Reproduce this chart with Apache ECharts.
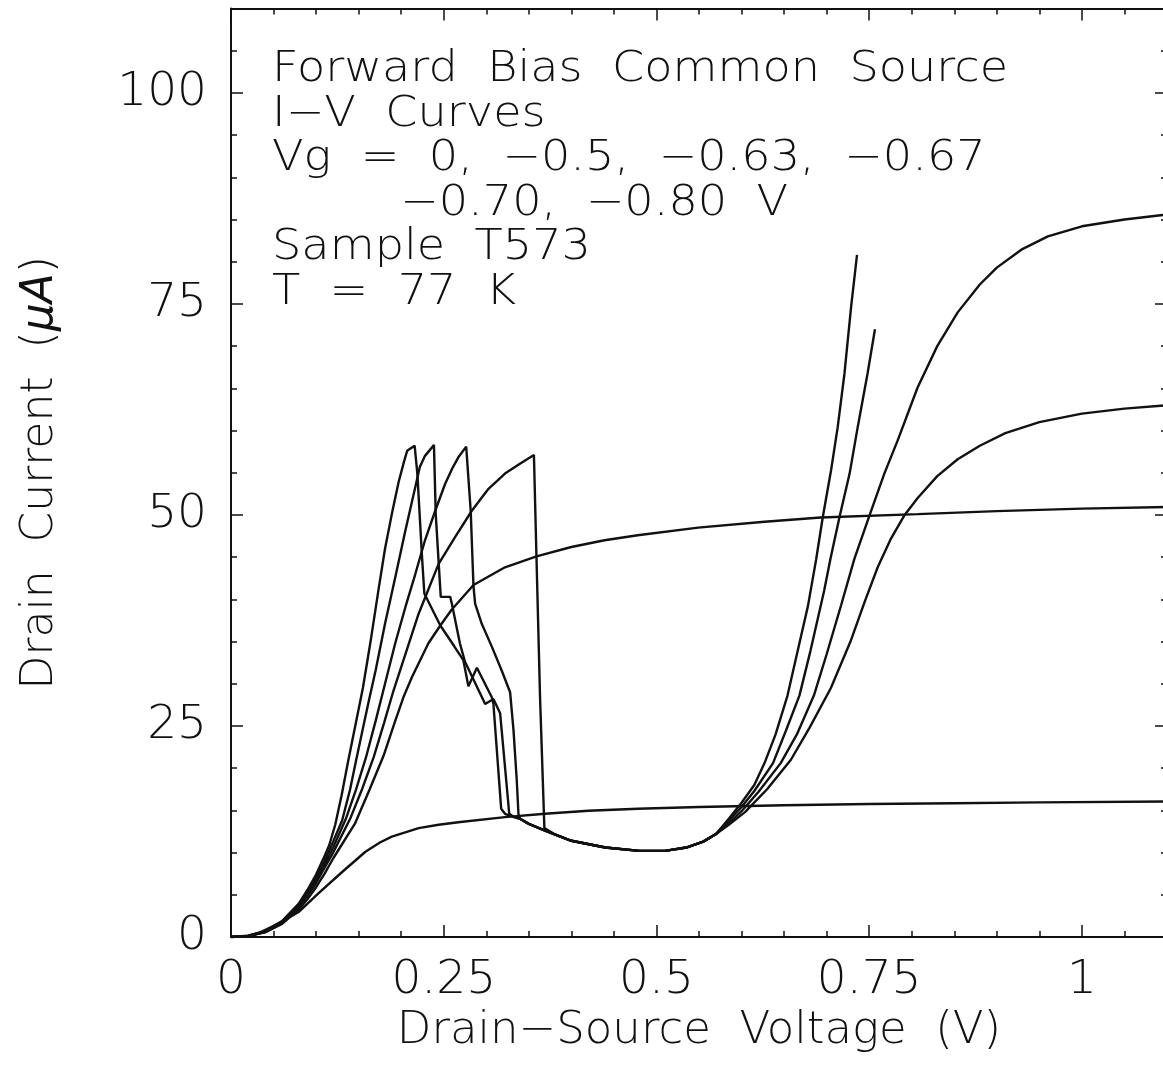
<!DOCTYPE html>
<html>
<head>
<meta charset="utf-8">
<script src="https://cdn.jsdelivr.net/npm/echarts@6/dist/echarts.min.js"></script>
<style>
  html, body { margin: 0; padding: 0; overflow: hidden; background: #fff; }
  #chart { width: 1200px; height: 1081px; }
</style>
</head>
<body>
<div id="chart"></div>
<script>
// Forward-bias common-source I-V curves, sample T573 at 77 K.
// Each curve: [drain-source voltage (V), drain current (uA)].

const xTicks = [0, 0.25, 0.5, 0.75, 1];
const yTicks = [0, 25, 50, 75, 100];
const gateVoltages = ['0', '−0.5', '−0.63', '−0.67', '−0.70', '−0.80'];

const noteLines = [
  'Forward  Bias  Common  Source',
  'I−V  Curves',
  'Vg  =  0,  −0.5,  −0.63,  −0.67',
  '−0.70,  −0.80  V',
  'Sample  T573',
  'T  =  77  K'
];

// Vg = 0 V : earliest peak, steepest recovery
const vg0Rise = [[0,0],[0.02,0.12],[0.04,0.7],[0.06,1.9],[0.08,4.0],[0.09,5.6],[0.10,7.4],[0.11,9.6],[0.1155,10.9],[0.1225,13.3],[0.13,16.8],[0.1376,20.8],[0.146,25.0],[0.155,29.5],[0.164,35.0],[0.1736,41.3],[0.181,46.0],[0.189,50.1],[0.197,53.9],[0.203,56.2],[0.207,57.6],[0.2158,58.2]];
const vg0Drop = [[0.219,54.9],[0.2245,45.0],[0.2272,40.7],[0.246,36.9],[0.262,34.5],[0.273,32.8],[0.279,29.7],[0.289,31.9],[0.3065,28.4],[0.3084,27.6],[0.3175,15.2],[0.322,14.6],[0.33,14.3]];
const vg0Recover = [[0.585,14.0],[0.60,15.9],[0.615,18.0],[0.627,20.6],[0.64,24.0],[0.654,28.6],[0.666,33.9],[0.678,39.2],[0.6876,44.7],[0.6954,49.7],[0.7052,55.3],[0.713,60.4],[0.7209,66.7],[0.7287,74.6],[0.7357,80.8]];

// Vg = -0.5 V
const vg05Rise = [[0,0],[0.02,0.11],[0.04,0.66],[0.06,1.8],[0.08,3.9],[0.09,5.3],[0.10,7.0],[0.11,9.0],[0.12,11.3],[0.1306,13.8],[0.14,17.5],[0.147,20.9],[0.155,24.7],[0.162,28.0],[0.170,31.6],[0.181,37.1],[0.193,42.6],[0.205,48.2],[0.2166,53.3],[0.222,55.7],[0.228,57.0],[0.2385,58.3]];
const vg05Drop = [[0.2406,50.1],[0.2465,40.3],[0.2576,40.3],[0.2595,39.5],[0.269,34.8],[0.275,32.6],[0.2987,27.6],[0.3084,28.2],[0.3163,26.5],[0.327,14.6],[0.333,14.2]];
const vg05Recover = [[0.585,13.8],[0.60,15.4],[0.615,17.3],[0.637,20.6],[0.652,24.4],[0.668,28.6],[0.681,33.9],[0.697,41.0],[0.7045,44.8],[0.715,49.7],[0.727,54.9],[0.7365,60.4],[0.748,66.7],[0.7568,72.0]];

// Vg = -0.63 V
const vg063Rise = [[0,0],[0.02,0.1],[0.04,0.62],[0.06,1.75],[0.08,3.8],[0.09,5.1],[0.10,6.7],[0.11,8.6],[0.12,10.6],[0.135,14.0],[0.147,17.5],[0.1587,21.3],[0.170,25.6],[0.181,30.0],[0.193,34.8],[0.205,39.1],[0.2166,43.0],[0.228,47.0],[0.240,50.5],[0.2517,53.7],[0.260,55.5],[0.267,56.8],[0.2764,58.1]];
const vg063Drop = [[0.2817,50.5],[0.285,41.5],[0.2869,39.5],[0.2947,37.1],[0.3065,34.4],[0.318,31.6],[0.328,29.0],[0.332,24.5],[0.3358,18.6],[0.3378,14.6]];
const vg063Recover = [[0.585,13.5],[0.60,14.9],[0.62,17.2],[0.646,20.6],[0.665,24.0],[0.685,28.6],[0.70,33.5],[0.717,39.3],[0.7326,44.8],[0.7502,49.9],[0.7678,54.9],[0.7834,58.8],[0.8069,65.1],[0.83,70.0],[0.854,74.0],[0.88,77.3],[0.90,79.3],[0.93,81.5],[0.96,83.0],[1.0,84.2],[1.05,85.0],[1.1,85.6]];

// Vg = -0.67 V : latest peak
const vg067Rise = [[0,0],[0.02,0.1],[0.04,0.58],[0.06,1.65],[0.08,3.6],[0.09,4.9],[0.10,6.4],[0.11,8.2],[0.12,10.0],[0.140,14.0],[0.154,17.5],[0.1677,21.3],[0.18,25.4],[0.191,29.2],[0.2205,38.3],[0.244,44.2],[0.2635,47.4],[0.283,50.5],[0.3026,53.1],[0.322,54.9],[0.34,56.1],[0.356,57.1]];
const vg067Drop = [[0.359,45.0],[0.3632,28.4],[0.3683,12.9],[0.38,12.2]];
const vg067Recover = [[0.585,13.3],[0.604,14.8],[0.63,17.5],[0.658,21.0],[0.68,24.8],[0.705,29.5],[0.728,35.0],[0.745,39.8],[0.76,43.8],[0.7756,47.2],[0.791,49.9],[0.807,52.0],[0.83,54.6],[0.854,56.6],[0.88,58.2],[0.91,59.7],[0.95,61.0],[1.0,62.0],[1.05,62.6],[1.1,63.0]];

// shared valley of the four NDR curves
const valley = [[0.3397,14.0],[0.35,13.4],[0.369,12.6],[0.40,11.4],[0.44,10.6],[0.48,10.2],[0.51,10.2],[0.535,10.6],[0.555,11.3],[0.57,12.2]];
const valleyFrom040 = valley.filter(p => p[0] >= 0.40);

// Vg = -0.70 V and -0.80 V : no NDR, saturating
const vg070 = [[0,0],[0.02,0.1],[0.04,0.55],[0.06,1.55],[0.08,3.3],[0.09,4.5],[0.10,5.9],[0.11,7.5],[0.12,9.3],[0.146,13.5],[0.163,17.5],[0.1794,21.5],[0.192,25.3],[0.203,28.5],[0.2127,30.8],[0.232,34.8],[0.246,36.9],[0.2595,38.8],[0.285,41.7],[0.322,43.8],[0.359,45.1],[0.40,46.2],[0.439,47.0],[0.478,47.6],[0.549,48.5],[0.627,49.2],[0.693,49.7],[0.807,50.1],[0.90,50.45],[1.0,50.75],[1.1,50.95]];
const vg080 = [[0,0],[0.02,0.15],[0.033,0.5],[0.056,1.6],[0.08,3.0],[0.103,5.2],[0.1306,7.7],[0.158,10.1],[0.175,11.2],[0.189,11.9],[0.2205,12.9],[0.244,13.3],[0.267,13.6],[0.322,14.2],[0.369,14.6],[0.42,14.95],[0.478,15.2],[0.55,15.4],[0.65,15.6],[0.75,15.75],[0.85,15.85],[0.95,15.95],[1.1,16.05]];

const curves = [
  vg0Rise.concat(vg0Drop, valley, vg0Recover),
  vg05Rise.concat(vg05Drop, valley, vg05Recover),
  vg063Rise.concat(vg063Drop, valley, vg063Recover),
  vg067Rise.concat(vg067Drop, valleyFrom040, vg067Recover),
  vg070,
  vg080
];

const INK = '#111';
const FONT = "'DejaVu Sans', 'Liberation Sans', sans-serif";

const near = (list, v) => list.some(t => Math.abs(t - v) < 1e-9);

function axisBase(extra) {
  return Object.assign({
    type: 'value',
    axisLine: { show: false, onZero: false, lineStyle: { color: INK, width: 2 } },
    axisTick: { show: true, inside: true, length: 6, lineStyle: { color: INK, width: 1.5 } },
    axisLabel: { show: false },
    splitLine: { show: false }
  }, extra);
}

const xMain = { min: 0, max: 1.1, interval: 0.25 };
const xMinor = { min: 0, max: 1.1, interval: 0.05 };
const yMain = { min: 0, max: 110, interval: 25 };
const yMinor = { min: 0, max: 110, interval: 5 };

const chart = echarts.init(document.getElementById('chart'), null, { renderer: 'canvas' });

chart.setOption({
  animation: false,
  backgroundColor: '#fff',
  grid: { left: 231, top: 8.5, right: 33, bottom: 144, containLabel: false },
  xAxis: [
    axisBase(Object.assign({}, xMain, {
      position: 'bottom',
      axisLine: { show: true, onZero: false, lineStyle: { color: INK, width: 2 } },
      axisTick: { show: true, inside: true, length: 12, lineStyle: { color: INK, width: 1.5 } },
      axisLabel: {
        show: true, margin: 20, color: INK, fontFamily: FONT, fontSize: 47, fontWeight: 200,
        formatter: v => near(xTicks, v) ? String(+v.toFixed(2)) : ''
      },
      name: 'Drain−Source  Voltage  (V)',
      nameLocation: 'middle', nameGap: 72,
      nameTextStyle: { color: INK, fontFamily: FONT, fontSize: 45, fontWeight: 200 }
    })),
    axisBase(Object.assign({}, xMinor, { position: 'bottom' })),
    axisBase(Object.assign({}, xMain, {
      position: 'top',
      axisLine: { show: true, onZero: false, lineStyle: { color: INK, width: 2 } },
      axisTick: { show: true, inside: true, length: 12, lineStyle: { color: INK, width: 1.5 } }
    })),
    axisBase(Object.assign({}, xMinor, { position: 'top' }))
  ],
  yAxis: [
    axisBase(Object.assign({}, yMain, {
      position: 'left',
      axisLine: { show: true, onZero: false, lineStyle: { color: INK, width: 2 } },
      axisTick: { show: true, inside: true, length: 12, lineStyle: { color: INK, width: 1.5 } },
      axisLabel: {
        show: true, margin: 24, color: INK, fontFamily: FONT, fontSize: 47, fontWeight: 200,
        formatter: v => near(yTicks, v) ? String(v) : ''
      },
      name: 'Drain  Current  ({it|μA})',
      nameLocation: 'middle', nameGap: 168, nameRotate: 90,
      nameTextStyle: {
        color: INK, fontFamily: FONT, fontSize: 44, fontWeight: 200,
        rich: { it: { fontStyle: 'italic', fontFamily: FONT, fontSize: 44, fontWeight: 200, color: INK } }
      }
    })),
    axisBase(Object.assign({}, yMinor, { position: 'left' })),
    axisBase(Object.assign({}, yMain, {
      position: 'right',
      axisLine: { show: true, onZero: false, lineStyle: { color: INK, width: 2 } },
      axisTick: { show: true, inside: true, length: 12, lineStyle: { color: INK, width: 1.5 } }
    })),
    axisBase(Object.assign({}, yMinor, { position: 'right' }))
  ],
  graphic: noteLines.map((line, i) => ({
    type: 'text',
    x: i === 3 ? 400 : 272,
    y: 70 + i * 44.6,
    scaleX: 1.1,
    silent: true,
    style: {
      text: line,
      fill: INK,
      font: "200 42px 'DejaVu Sans', 'Liberation Sans', sans-serif",
      verticalAlign: 'middle',
      align: 'left'
    }
  })),
  series: curves.map((data, i) => ({
    name: 'Vg = ' + gateVoltages[i] + ' V',
    type: 'line',
    xAxisIndex: 0,
    yAxisIndex: 0,
    data: data,
    showSymbol: false,
    symbol: 'none',
    smooth: false,
    clip: true,
    lineStyle: { color: INK, width: 2.4 },
    emphasis: { disabled: true }
  }))
});
</script>
</body>
</html>
